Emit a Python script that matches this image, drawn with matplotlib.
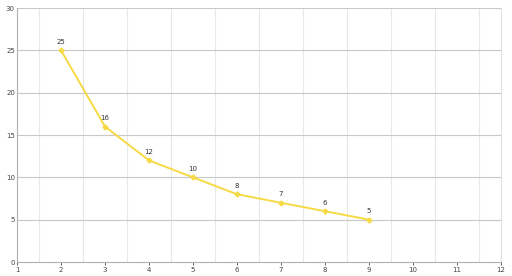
import matplotlib
matplotlib.use('Agg')
import matplotlib.pyplot as plt

x_values = [2, 3, 4, 5, 6, 7, 8, 9]
y_values = [25, 16, 12, 10, 8, 7, 6, 5]
x_ticks = [1, 2, 3, 4, 5, 6, 7, 8, 9, 10, 11, 12]
y_ticks = [0, 5, 10, 15, 20, 25, 30]

fig = plt.figure(figsize=(5.12, 2.76), dpi=100)
ax = fig.add_axes([0.0332, 0.0507, 0.9453, 0.9203])

# light vertical grid between the integer ticks
for xv in x_ticks[:-1]:
    ax.axvline(xv + 0.5, color='#e8e8e8', lw=0.8, zorder=0)
for yv in y_ticks[1:]:
    ax.axhline(yv, color='#c8c8c8', lw=0.8, zorder=0)

ax.plot(x_values, y_values, color='#f6da45', lw=1.4, marker='D', ms=2.5, zorder=3)
for xv, yv in zip(x_values, y_values):
    ax.annotate(str(yv), (xv, yv), xytext=(0, 4), textcoords='offset points',
                ha='center', va='bottom', fontsize=5, color='#333333')

ax.set_xlim(1, 12)
ax.set_ylim(0, 30)
ax.set_xticks(x_ticks)
ax.set_yticks(y_ticks)
ax.tick_params(labelsize=5, colors='#444444', length=2, width=0.6, pad=1.5)
ax.tick_params(axis='y', length=0)
for side in ['left', 'bottom']:
    ax.spines[side].set_color('#b0b0b0')
    ax.spines[side].set_linewidth(0.8)
ax.spines['top'].set_visible(False)
ax.spines['right'].set_color('#e0e0e0')
ax.spines['right'].set_linewidth(0.8)

fig.savefig('out.png', dpi=100)
plt.close()
